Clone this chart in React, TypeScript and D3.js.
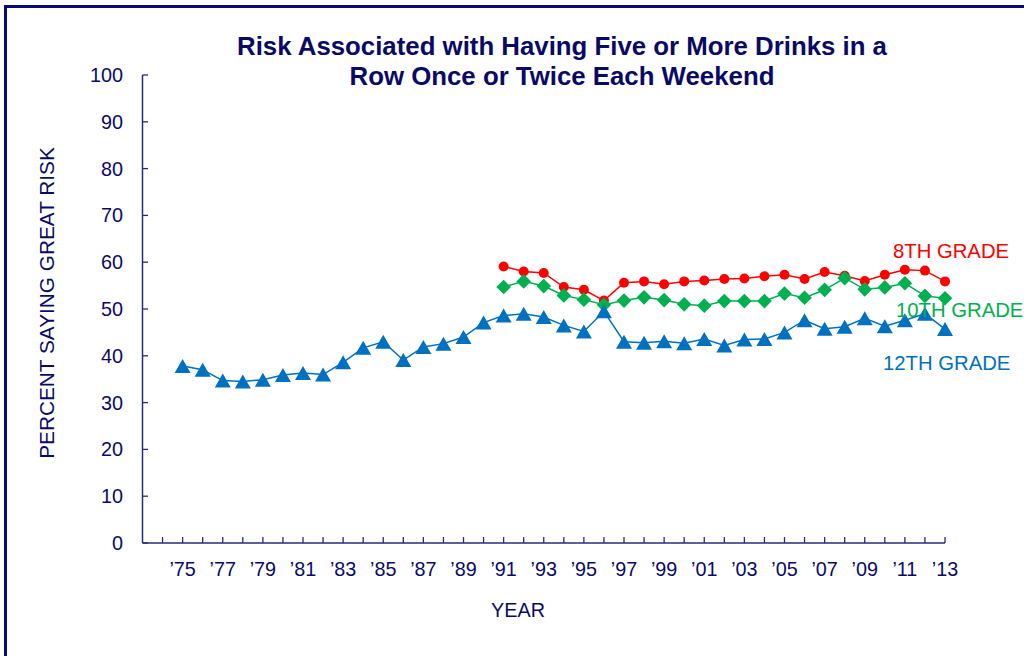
import React from "react";
import * as d3 from "d3";

const years12: number[] = d3.range(1975, 2014);
const grade12: number[] = [37.8, 37.0, 34.7, 34.5, 34.9, 35.9, 36.3, 36.0, 38.6, 41.7, 43.0, 39.1, 41.9, 42.6, 44.0, 47.1, 48.6, 49.0, 48.3, 46.5, 45.2, 49.5, 43.0, 42.8, 43.1, 42.7, 43.6, 42.2, 43.5, 43.6, 45.0, 47.6, 45.8, 46.2, 48.0, 46.3, 47.6, 49.0, 45.7];
const years8_10: number[] = d3.range(1991, 2014);
const grade8: number[] = [59.1, 58.0, 57.7, 54.7, 54.1, 51.8, 55.6, 55.9, 55.3, 55.9, 56.1, 56.4, 56.5, 57.0, 57.3, 56.4, 57.9, 57.1, 56.0, 57.3, 58.4, 58.2, 55.9];
const grade10: number[] = [54.7, 55.9, 54.9, 52.9, 52.0, 50.9, 51.8, 52.5, 51.9, 51.0, 50.7, 51.7, 51.7, 51.7, 53.3, 52.4, 54.1, 56.6, 54.2, 54.6, 55.5, 52.8, 52.3];
const yTicks: number[] = [0, 10, 20, 30, 40, 50, 60, 70, 80, 90, 100];
const xLabelYears: number[] = d3.range(1975, 2014, 2);
const xTickYears: number[] = d3.range(1974, 2014);

const NAVY = "#0A0A66";
const AXIS = "#2A2A7A";
const RED = "#FF0000";
const GREEN = "#00B050";
const BLUE = "#0070C0";
const FONT = "'Liberation Sans', Arial, Helvetica, sans-serif";

const TRI = "M0,-7L8,7L-8,7Z";

export default function App() {
  const x = d3.scaleLinear().domain([1973, 2013]).range([142.5, 945]);
  const y = d3.scaleLinear().domain([0, 100]).range([543, 75]);

  const line = d3
    .line<[number, number]>()
    .x((d) => x(d[0]))
    .y((d) => y(d[1]));

  const d8: [number, number][] = years8_10.map((yr, i) => [yr, grade8[i]]);
  const d10: [number, number][] = years8_10.map((yr, i) => [yr, grade10[i]]);
  const d12: [number, number][] = years12.map((yr, i) => [yr, grade12[i]]);

  return (
    <svg
      width={1024}
      height={656}
      style={{ position: "absolute", left: 0, top: 0, background: "#fff" }}
      fontFamily={FONT}
    >
      <rect x={5.5} y={6.5} width={1030} height={670} fill="#fff" stroke="#0A0A70" strokeWidth={3} />

      <text x={562} y={55} textAnchor="middle" fontWeight="bold" fontSize={25.8} fill={NAVY}>
        Risk Associated with Having Five or More Drinks in a
      </text>
      <text x={562} y={85} textAnchor="middle" fontWeight="bold" fontSize={25.8} fill={NAVY}>
        Row Once or Twice Each Weekend
      </text>

      {/* y axis */}
      <line x1={142.5} x2={142.5} y1={y(100)} y2={y(0)} stroke={AXIS} strokeWidth={1.5} />
      {yTicks.map((t) => (
        <g key={"y" + t}>
          <line x1={142.5} x2={148} y1={y(t)} y2={y(t)} stroke={AXIS} strokeWidth={1.3} />
          <text x={123} y={y(t) + 7} textAnchor="end" fontSize={19.8} fill={NAVY}>
            {t}
          </text>
        </g>
      ))}

      {/* x axis */}
      <line x1={142.5} x2={945} y1={y(0)} y2={y(0)} stroke={AXIS} strokeWidth={1.5} />
      {xTickYears.map((yr) => (
        <line key={"xt" + yr} x1={x(yr)} x2={x(yr)} y1={y(0)} y2={y(0) - 6} stroke={AXIS} strokeWidth={1.3} />
      ))}
      {xLabelYears.map((yr) => (
        <text key={"xl" + yr} x={x(yr)} y={576} textAnchor="middle" fontSize={19.8} fill={NAVY}>
          {"\u2019" + String(yr % 100).padStart(2, "0")}
        </text>
      ))}

      <text x={518} y={617} textAnchor="middle" fontSize={19.8} fill={NAVY}>
        YEAR
      </text>
      <text
        transform={`translate(54, 303) rotate(-90)`}
        textAnchor="middle"
        fontSize={20.8}
        fill={NAVY}
      >
        PERCENT SAYING GREAT RISK
      </text>

      {/* 8th grade */}
      <path d={line(d8) || ""} fill="none" stroke={RED} strokeWidth={1.5} />
      {d8.map((d) => (
        <circle key={"r" + d[0]} cx={x(d[0])} cy={y(d[1])} r={5} fill={RED} />
      ))}

      {/* 10th grade */}
      <path d={line(d10) || ""} fill="none" stroke={GREEN} strokeWidth={1.5} />
      {d10.map((d) => (
        <rect
          key={"g" + d[0]}
          x={-5.2}
          y={-5.2}
          width={10.4}
          height={10.4}
          fill={GREEN}
          transform={`translate(${x(d[0])},${y(d[1])}) rotate(45)`}
        />
      ))}

      {/* 12th grade */}
      <path d={line(d12) || ""} fill="none" stroke={BLUE} strokeWidth={1.5} />
      {d12.map((d) => (
        <path key={"b" + d[0]} d={TRI} fill={BLUE} transform={`translate(${x(d[0])},${y(d[1])})`} />
      ))}

      <text x={893} y={258} fontSize={20.3} fill={RED}>8TH GRADE</text>
      <text x={896} y={317} fontSize={20.3} fill={GREEN}>10TH GRADE</text>
      <text x={883} y={370} fontSize={20.3} fill={BLUE}>12TH GRADE</text>
    </svg>
  );
}
